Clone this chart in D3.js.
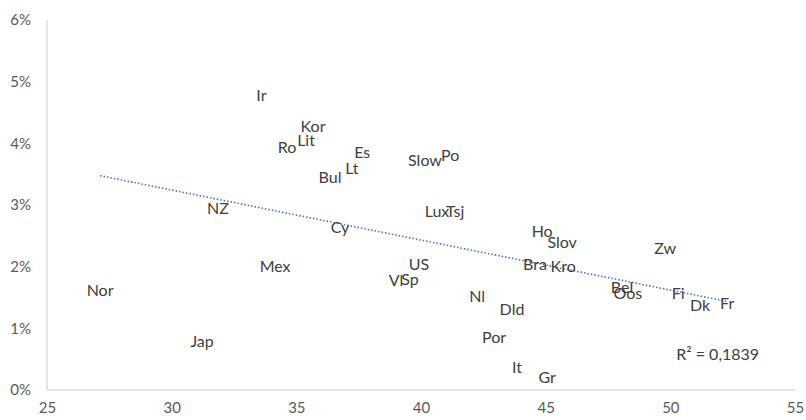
<!DOCTYPE html>
<html><head><meta charset="utf-8">
<script src="https://cdn.jsdelivr.net/npm/d3@7"></script>
<style>
html,body{margin:0;padding:0;background:#fff;}
text{font-family:Lato,"Open Sans",sans-serif;}
</style></head>
<body>
<svg id="chart" width="806" height="420"></svg>
<script>
const labels = ["Ir","Kor","Lit","Ro","Es","Lt","Bul","Slow","Po","Lux","Tsj","NZ","Cy","Ho","Slov","Zw","Mex","US","Bra","Kro","Vl","Sp","Nor","Bel","Oos","Fi","Dk","Fr","Nl","Dld","Por","Jap","It","Gr"];
const xValues = [33.6,35.67,35.39,34.63,37.64,37.23,36.35,40.16,41.17,40.64,41.37,31.86,36.75,44.86,45.66,49.79,34.15,39.92,44.57,45.70,39.0,39.56,27.13,48.06,48.30,50.31,51.19,52.28,42.25,43.65,42.93,31.22,43.85,45.06];
const yValues = [0.0478,0.0428,0.0405,0.0394,0.0386,0.0360,0.0345,0.0373,0.0381,0.0290,0.0290,0.0295,0.0264,0.0258,0.0240,0.0229,0.0201,0.0204,0.0204,0.0201,0.0177,0.0180,0.0161,0.0167,0.0157,0.0157,0.0138,0.0141,0.0152,0.0131,0.0086,0.0079,0.0036,0.0021];
const xTicks = [25,30,35,40,45,50,55];
const yTicks = [0,0.01,0.02,0.03,0.04,0.05,0.06];
const r2Label = "R² = 0,1839";

const svg = d3.select("#chart");
const x = d3.scaleLinear().domain([25,55]).range([47,795]);
const y = d3.scaleLinear().domain([0,0.06]).range([390,20]);

svg.append("line").attr("x1",x(25)).attr("x2",x(55)).attr("y1",y(0)).attr("y2",y(0)).attr("stroke","#c8c8c8").attr("stroke-width",1);
svg.append("line").attr("x1",x(25)).attr("x2",x(25)).attr("y1",y(0)).attr("y2",y(0.06)).attr("stroke","#c8c8c8").attr("stroke-width",1);

const xAxis = svg.append("g").attr("transform",`translate(0,${y(0)})`)
  .call(d3.axisBottom(x).tickValues(xTicks).tickSize(0).tickPadding(10).tickFormat(d3.format("d")));
xAxis.select(".domain").remove();
xAxis.selectAll("text").attr("fill","#595959").style("font-size","15px").attr("dy","0.85em");

const yAxis = svg.append("g").attr("transform",`translate(${x(25)},0)`)
  .call(d3.axisLeft(y).tickValues(yTicks).tickSize(0).tickPadding(16).tickFormat(d3.format(".0%")));
yAxis.select(".domain").remove();
yAxis.selectAll("text").attr("fill","#595959").style("font-size","15px");

const n = xValues.length;
const mx = d3.mean(xValues), my = d3.mean(yValues);
let sxy=0, sxx=0;
for(let i=0;i<n;i++){sxy+=(xValues[i]-mx)*(yValues[i]-my); sxx+=(xValues[i]-mx)**2;}
const slope = sxy/sxx, intercept = my - slope*mx;
const [xmin,xmax] = d3.extent(xValues);
svg.append("line")
  .attr("x1",x(xmin)).attr("y1",y(intercept+slope*xmin))
  .attr("x2",x(xmax)).attr("y2",y(intercept+slope*xmax))
  .attr("stroke","#4472c4").attr("stroke-width",1.6).attr("stroke-dasharray","1.5,2");

svg.append("g").selectAll("text").data(labels).join("text")
  .attr("x",(d,i)=>x(xValues[i])).attr("y",(d,i)=>y(yValues[i]))
  .attr("text-anchor","middle").attr("dy","0.35em")
  .attr("fill","#404040").style("font-size","16px").text(d=>d);

svg.append("text").attr("x",x(51.9)).attr("y",y(0.0057)).attr("text-anchor","middle").attr("dy","0.35em")
  .attr("fill","#404040").style("font-size","16px").text(r2Label);
</script>
</body></html>
